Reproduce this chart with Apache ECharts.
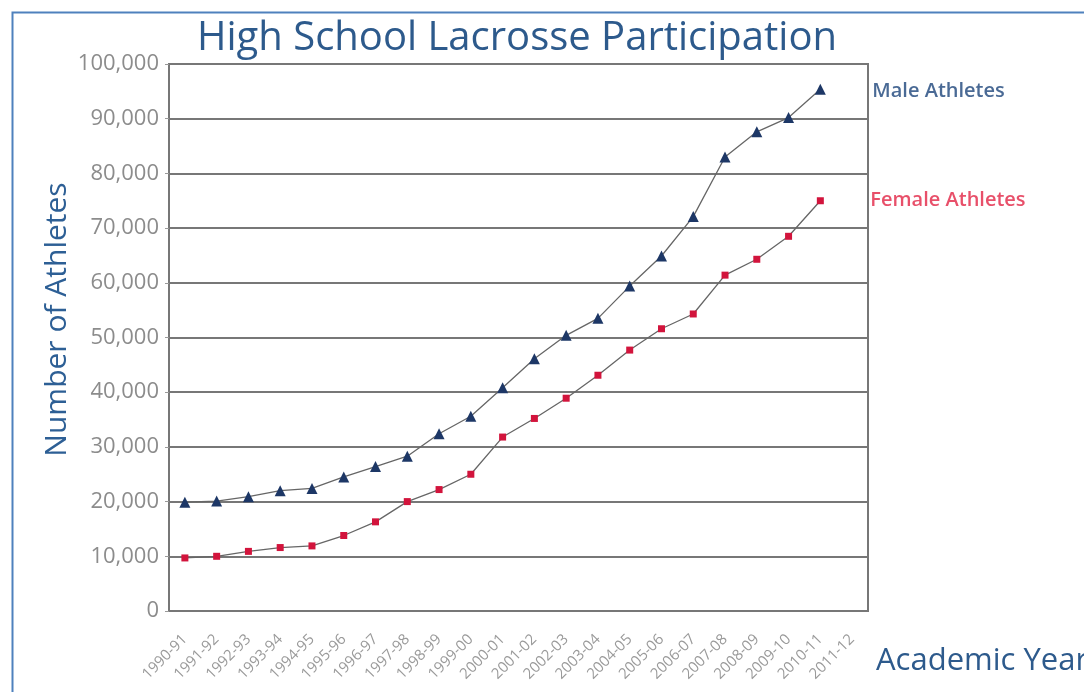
<!DOCTYPE html>
<html>
<head>
<meta charset="utf-8">
<script src="https://cdn.jsdelivr.net/npm/echarts@6/dist/echarts.min.js"></script>
<style>
html,body{margin:0;padding:0;background:#fff;}
#chart{width:1084px;height:692px;}
</style>
</head>
<body>
<div id="chart"></div>
<script>
var categories = ['1990-91','1991-92','1992-93','1993-94','1994-95','1995-96','1996-97','1997-98','1998-99','1999-00','2000-01','2001-02','2002-03','2003-04','2004-05','2005-06','2006-07','2007-08','2008-09','2009-10','2010-11','2011-12'];
var maleAthletes = [19900,20100,20900,22000,22400,24500,26400,28300,32400,35600,40800,46100,50400,53500,59400,64900,72100,83000,87600,90200,95400];
var femaleAthletes = [9700,10000,10900,11600,11900,13800,16300,20000,22200,25000,31800,35200,38900,43100,47700,51600,54300,61400,64300,68500,75000];
var yTicks = [0,10000,20000,30000,40000,50000,60000,70000,80000,90000,100000];

var chart = echarts.init(document.getElementById('chart'), null, {renderer:'canvas'});
var FONT = '"Open Sans", "Noto Sans", sans-serif';
chart.setOption({
  backgroundColor: '#ffffff',
  animation: false,
  title: {
    text: 'High School Lacrosse Participation',
    left: 192, top: 14,
    textStyle: {fontFamily: FONT, fontSize: 40, fontWeight: 'normal', color: '#2d5a8c'}
  },
  graphic: [{
    type: 'rect', left: 10, top: 10, silent: true,
    shape: {width: 1200, height: 800},
    style: {fill: 'none', stroke: '#4f81bd', lineWidth: 2}
  }],
  grid: {left: 169, right: 216, top: 64, bottom: 81, containLabel: false, outerBoundsMode: 'none',
    show: true, borderColor: '#777', borderWidth: 2, backgroundColor: 'transparent'},
  xAxis: {
    type: 'category', data: categories, boundaryGap: true,
    name: 'Academic Year', nameLocation: 'end', nameGap: 8, nameMoveOverlap: false,
    nameTextStyle: {fontFamily: FONT, fontSize: 31, color: '#2d5a8c', align: 'left', verticalAlign: 'top', padding: [35,0,0,0]},
    axisLine: {show: false}, axisTick: {show: false},
    axisLabel: {rotate: 45, interval: 0, margin: 26, fontFamily: FONT, fontSize: 15, color: '#9a9a9a'}
  },
  yAxis: {
    type: 'value', min: 0, max: 100000, interval: 10000,
    name: 'Number of Athletes', nameLocation: 'middle', nameGap: 97, nameMoveOverlap: false,
    nameTextStyle: {fontFamily: FONT, fontSize: 30, color: '#2d5f95', padding: [0,0,0,36]},
    axisLine: {show: false},
    axisTick: {show: true, length: 4, lineStyle: {color: '#999'}},
    axisLabel: {margin: 10, fontFamily: FONT, fontSize: 22, color: '#8c8c8c',
      formatter: function(v){ return yTicks.indexOf(v) >= 0 ? v.toLocaleString('en-US') : ''; }},
    splitLine: {show: true, lineStyle: {color: '#777', width: 2}}
  },
  series: [{
    name: 'Male Athletes', type: 'line', data: maleAthletes,
    symbol: 'triangle', symbolSize: 11,
    itemStyle: {color: '#1d3766'},
    lineStyle: {color: '#666', width: 1.3},
    endLabel: {show: true, formatter: '{a}', distance: 52, offset: [0, 2], fontFamily: FONT, fontSize: 20, fontWeight: 600, color: '#4a6a95'}
  },{
    name: 'Female Athletes', type: 'line', data: femaleAthletes,
    symbol: 'rect', symbolSize: 7,
    itemStyle: {color: '#d2143c'},
    lineStyle: {color: '#666', width: 1.3},
    endLabel: {show: true, formatter: '{a}', distance: 50, fontFamily: FONT, fontSize: 20, fontWeight: 600, color: '#e8506a'}
  }]
});
</script>
</body>
</html>
